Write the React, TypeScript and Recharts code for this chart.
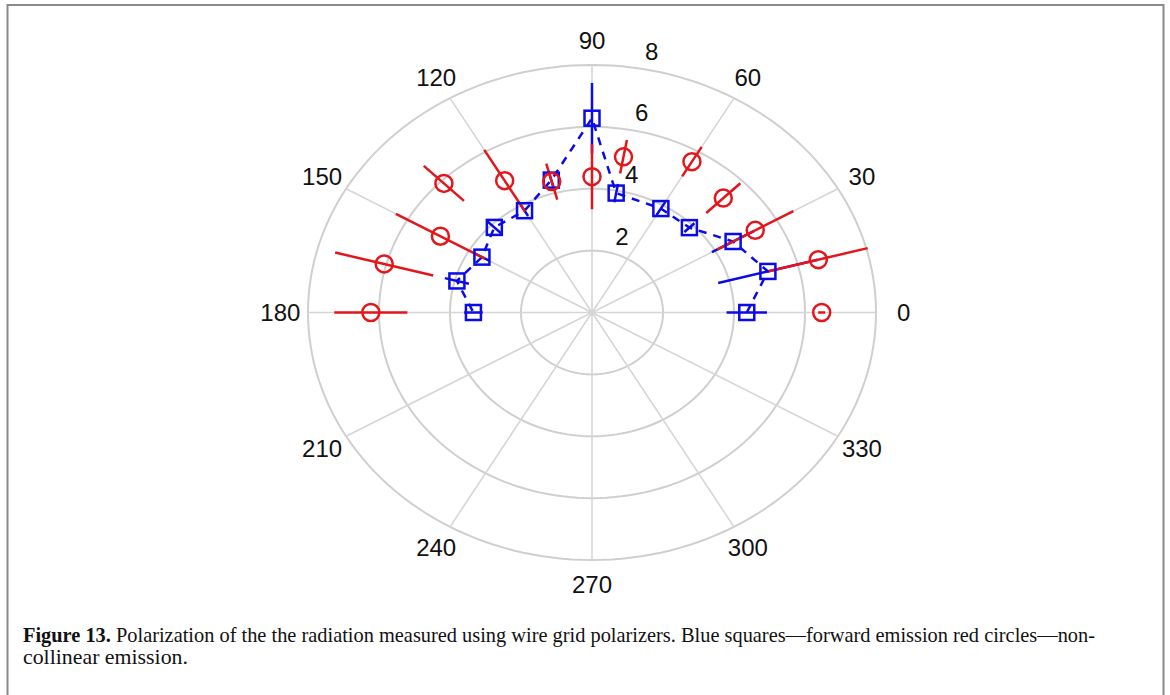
import React from 'react';
import { ComposedChart, XAxis, YAxis, Line, Scatter, ReferenceDot } from 'recharts';

// Polarizer angle (degrees) for every measurement
const angles = [0, 15, 30, 45, 60, 80, 90, 105, 120, 135, 150, 165, 180];

// Forward emission (blue squares): signal and its uncertainty
const forwardR = [4.36, 5.13, 4.59, 3.88, 3.88, 3.92, 6.28, 4.43, 3.8, 3.89, 3.58, 3.94, 3.34];
const forwardErr = [0.57, 1.45, 0.69, 0.2, 0.25, 0.3, 1.14, 0.3, 0.2, 0.3, 0.25, 0.35, 0.26];

// Non-collinear emission (red circles): signal and its uncertainty
const noncolR = [6.47, 6.6, 5.31, 5.23, 5.63, 5.11, 4.39, 4.38, 4.92, 5.9, 4.93, 6.06, 6.23];
const noncolErr = [0.1, 1.44, 1.24, 0.68, 0.55, 0.55, 1.05, 0.6, 1.15, 0.8, 1.45, 1.43, 1.03];

// Polar grid
const ringValues = [2, 4, 6, 8];
const angleTicks = [0, 30, 60, 90, 120, 150, 180, 210, 240, 270, 300, 330];
const R_MAX = 8;

const BLUE = '#0b0be8';
const RED = '#e3161b';
const GRID = '#cfcfcf';
const FONT = '"Liberation Sans", Arial, sans-serif';

type Pt = { x: number; y: number | null };

const rad = (d: number) => (d * Math.PI) / 180;
const toXY = (deg: number, r: number): Pt => ({ x: r * Math.cos(rad(deg)), y: r * Math.sin(rad(deg)) });
const GAP: Pt = { x: 0, y: null };

const ellipse = (r: number): Pt[] => {
  const pts: Pt[] = [];
  for (let t = 0; t <= 360; t += 2) pts.push(toXY(t, r));
  return pts;
};

const spokes: Pt[] = angleTicks
  .filter((a) => a < 180)
  .flatMap((a) => [toXY(a, R_MAX), toXY(a + 180, R_MAX), GAP]);

const errorSegments = (r: number[], err: number[]): Pt[] =>
  angles.flatMap((a, i) => [toXY(a, r[i] - err[i]), toXY(a, r[i] + err[i]), GAP]);

const forwardPts = angles.map((a, i) => toXY(a, forwardR[i]));
const noncolPts = angles.map((a, i) => toXY(a, noncolR[i]));
const forwardBars = errorSegments(forwardR, forwardErr);
const noncolBars = errorSegments(noncolR, noncolErr);

const ANGLE_LABEL_R = 8.78;

const SquareMarker = (p: any) => (
  <rect x={p.cx - 7.5} y={p.cy - 7.5} width={15} height={15} fill="none" stroke={BLUE} strokeWidth={2.5} />
);
const CircleMarker = (p: any) => (
  <circle cx={p.cx} cy={p.cy} r={8.5} fill="none" stroke={RED} strokeWidth={2.5} />
);

const textShape = (label: string) => (p: any) => (
  <text
    x={p.cx}
    y={p.cy}
    textAnchor="middle"
    dominantBaseline="central"
    fontFamily={FONT}
    fontSize={24}
    fill="#111"
  >
    {label}
  </text>
);

const lineCommon = {
  dot: false,
  activeDot: false,
  isAnimationActive: false,
  type: 'linear' as const,
  dataKey: 'y',
  connectNulls: false,
  legendType: 'none' as const,
};

export default function App() {
  return (
    <div style={{ position: 'absolute', left: 0, top: 0, width: 1170, height: 695, background: '#fff' }}>
      <ComposedChart width={1170} height={695} margin={{ left: 308, right: 294, top: 65, bottom: 135 }}>
        <XAxis type="number" dataKey="x" domain={[-R_MAX, R_MAX]} hide />
        <YAxis type="number" dataKey="y" domain={[-R_MAX, R_MAX]} hide />

        {ringValues.map((r) => (
          <Line key={`ring-${r}`} {...lineCommon} data={ellipse(r)} stroke={GRID} strokeWidth={2} />
        ))}
        <Line {...lineCommon} data={spokes} stroke="#d6d6d6" strokeWidth={1.6} />

        <Line {...lineCommon} data={forwardPts} stroke={BLUE} strokeWidth={2.5} strokeDasharray="8 7" />
        <Line {...lineCommon} data={forwardBars} stroke={BLUE} strokeWidth={2.5} />
        <Scatter data={forwardPts} dataKey="y" shape={SquareMarker} isAnimationActive={false} legendType="none" />

        <Line {...lineCommon} data={noncolBars} stroke={RED} strokeWidth={2.5} />
        <Scatter data={noncolPts} dataKey="y" shape={CircleMarker} isAnimationActive={false} legendType="none" />

        {angleTicks.map((a) => {
          const p = toXY(a, ANGLE_LABEL_R);
          return (
            <ReferenceDot key={`al-${a}`} x={p.x} y={p.y as number} ifOverflow="visible" shape={textShape(String(a))} />
          );
        })}
        {ringValues.map((r) => (
          <ReferenceDot
            key={`rl-${r}`}
            x={0.14 * r + 0.56}
            y={r + 0.45}
            ifOverflow="visible"
            shape={textShape(String(r))}
          />
        ))}
      </ComposedChart>

      <svg
        width={1170}
        height={695}
        style={{ position: 'absolute', left: 0, top: 0, pointerEvents: 'none' }}
      >
        <path d="M7.5 695 V5 H1163.5 V695" fill="none" stroke="#8a8a8a" strokeWidth={2} />
        <text
          x={23}
          y={642}
          fontFamily='"Liberation Serif", "Times New Roman", serif'
          fontSize={21}
          fill="#111"
          textLength={1072}
          lengthAdjust="spacingAndGlyphs"
        >
          <tspan fontWeight="bold">Figure 13.</tspan>
          {' Polarization of the the radiation measured using wire grid polarizers. Blue squares\u2014forward emission red circles\u2014non-'}
        </text>
        <text
          x={23}
          y={664}
          fontFamily='"Liberation Serif", "Times New Roman", serif'
          fontSize={21}
          fill="#111"
          textLength={165}
          lengthAdjust="spacingAndGlyphs"
        >
          collinear emission.
        </text>
      </svg>
    </div>
  );
}
